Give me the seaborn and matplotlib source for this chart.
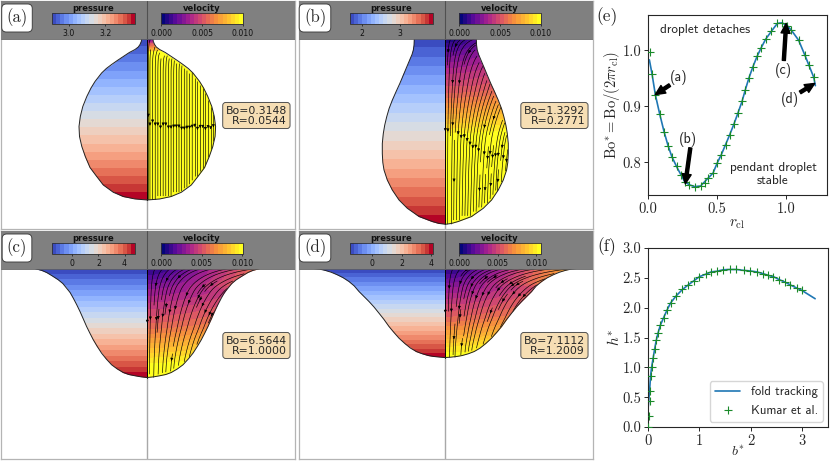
import numpy as np
import pandas as pd
import matplotlib
matplotlib.use('Agg')
import matplotlib.pyplot as plt
import seaborn as sns
from matplotlib.colors import LinearSegmentedColormap, Normalize
from matplotlib.cm import ScalarMappable
from matplotlib.patches import Polygon

# droplet half widths against depth below the top plate
depth_a = [0, 3, 6, 8.5, 11, 14, 18, 22, 26, 30, 34.5, 43, 49.5, 58, 68, 78, 88, 98, 108, 118, 129, 138, 146.5, 153.8, 158, 160.5, 161.5]
width_a = [5.7, 6, 7.3, 9, 12.3, 18, 24, 30, 35.7, 41, 45.7, 52.3, 56.3, 60.5, 64.5, 67, 68.3, 67.8, 65.5, 62, 57.3, 50.6, 44, 34, 24, 12.3, 0]
depth_b = [0, 6.7, 11.7, 16, 20, 28.3, 36.7, 45, 53.3, 61.7, 70, 78.3, 86.7, 95, 105, 115, 124, 131.5, 141.5, 151.5, 161.5, 169.8, 178, 183, 185, 185.8]
width_b = [31, 31.3, 32, 33.3, 35, 38.5, 42, 45.5, 49.3, 53, 56.2, 58.6, 60.6, 62, 63, 63, 62.5, 61.3, 58, 53, 46.3, 38, 26.3, 13, 6, 0]
depth_c = [0, 2, 4, 7, 11.3, 15, 19.7, 24, 29.7, 36, 43, 50, 58, 64.5, 71.3, 78, 84.7, 90.5, 96.3, 100.5, 104, 106, 107.3, 108.4, 109]
width_c = [112.3, 105.3, 100.7, 95.7, 89, 84.5, 80.7, 77.2, 74, 70.7, 67.3, 64.2, 60.7, 57.5, 54, 50, 45.7, 41, 35.7, 30, 24, 18.5, 12.3, 6, 0]
depth_d = [0, 0.7, 2, 3.8, 6.3, 9.3, 13, 17.5, 23, 28, 33, 38.5, 44.7, 51, 58, 64, 69.7, 75, 79.7, 83, 85.3, 87, 88, 88.7, 89]
width_d = [131.3, 125.5, 119.7, 114, 108, 102, 96.3, 91, 86.3, 81.3, 76.3, 71.3, 66.3, 61.3, 56.3, 51.3, 46.3, 40.5, 34.7, 29, 23, 17, 11.3, 5.5, 0]

# axial speed against depth
speed_depth_a = [0, 5, 12, 17, 30, 162]
speed_a = [0.0005, 0.005, 0.008, 0.0125, 0.0135, 0.0135]
speed_depth_b = [0, 18, 35, 55, 75, 95, 105, 130, 186]
speed_b = [0.0005, 0.0025, 0.004, 0.0055, 0.0075, 0.0095, 0.0102, 0.0112, 0.0125]
speed_depth_c = [0, 20, 40, 60, 77, 93, 109]
speed_c = [0.0008, 0.003, 0.0045, 0.006, 0.0078, 0.0095, 0.0105]
speed_depth_d = [0, 17, 33, 50, 67, 80, 90]
speed_d = [0.0008, 0.003, 0.0045, 0.006, 0.008, 0.0098, 0.0105]

pressure_range = [[2.906, 3.363], [1.69, 3.87], [-1.54, 4.8], [-1.52, 4.11]]
pressure_ticks = [[3.0, 3.2], [2, 3], [0, 2, 4], [0, 2, 4]]
pressure_labels = [['3.0', '3.2'], ['2', '3'], ['0', '2', '4'], ['0', '2', '4']]
velocity_max = [0.010, 0.010, 0.0101, 0.0106]
velocity_ticks = [0.0, 0.005, 0.010]
velocity_labels = ['0.000', '0.005', '0.010']
panel_names = ['(a)', '(b)', '(c)', '(d)']
bond_text = ['Bo=0.3148\nR=0.0544', 'Bo=1.3292\nR=0.2771', 'Bo=6.5644\nR=1.0000', 'Bo=7.1112\nR=1.2009']
velocity_colors = ['#05057a', '#5a0a9a', '#a5208f', '#d8506a', '#f58a40', '#ffc030', '#ffff20']

# bifurcation curve of panel (e)
line_rcl = [0.01, 0.029, 0.053, 0.084, 0.116, 0.145, 0.173, 0.212, 0.265, 0.30, 0.337, 0.38, 0.434, 0.47, 0.50, 0.53, 0.561, 0.59, 0.622, 0.65, 0.68, 0.704, 0.73, 0.759, 0.788, 0.819, 0.851, 0.892, 0.935, 0.969, 1.007, 1.036, 1.089, 1.133, 1.164, 1.198, 1.21]
line_bo = [0.983, 0.958, 0.921, 0.887, 0.855, 0.830, 0.810, 0.790, 0.766, 0.760, 0.757, 0.758, 0.772, 0.781, 0.799, 0.814, 0.832, 0.849, 0.869, 0.888, 0.909, 0.93, 0.951, 0.971, 0.989, 1.005, 1.02, 1.034, 1.048, 1.049, 1.044, 1.036, 1.018, 0.992, 0.973, 0.952, 0.937]
mark_rcl = [0.012, 0.029, 0.053, 0.084, 0.116, 0.145, 0.173, 0.212, 0.24, 0.265, 0.30, 0.337, 0.38, 0.41, 0.434, 0.47, 0.50, 0.53, 0.561, 0.59, 0.622, 0.65, 0.68, 0.704, 0.73, 0.759, 0.788, 0.819, 0.851, 0.892, 0.935, 0.969, 1.007, 1.036, 1.089, 1.133, 1.164, 1.198]
mark_bo = [0.997, 0.958, 0.921, 0.887, 0.855, 0.830, 0.810, 0.793, 0.778, 0.766, 0.760, 0.757, 0.758, 0.764, 0.772, 0.781, 0.799, 0.814, 0.832, 0.849, 0.869, 0.888, 0.909, 0.93, 0.951, 0.971, 0.989, 1.005, 1.02, 1.034, 1.048, 1.049, 1.044, 1.036, 1.018, 0.992, 0.973, 0.952]

# panel (f)
mark_b = [0, 0.01, 0.03, 0.04, 0.05, 0.07, 0.1, 0.13, 0.16, 0.195, 0.24, 0.305, 0.37, 0.44, 0.55, 0.67, 0.78, 0.89, 1.0, 1.12, 1.23, 1.34, 1.46, 1.59, 1.72, 1.86, 1.99, 2.11, 2.24, 2.34, 2.44, 2.55, 2.66, 2.77, 2.89, 2.99]
mark_h = [0, 0.185, 0.43, 0.6, 0.855, 1.0, 1.155, 1.31, 1.45, 1.575, 1.705, 1.835, 1.96, 2.08, 2.2, 2.305, 2.38, 2.45, 2.52, 2.56, 2.6, 2.61, 2.635, 2.64, 2.64, 2.625, 2.615, 2.6, 2.57, 2.54, 2.52, 2.47, 2.43, 2.38, 2.33, 2.29]
line_b = [0.0, 0.03, 0.05, 0.07, 0.1, 0.13, 0.16, 0.195, 0.24, 0.305, 0.37, 0.44, 0.55, 0.67, 0.78, 0.89, 1.0, 1.12, 1.23, 1.34, 1.46, 1.59, 1.72, 1.86, 1.99, 2.11, 2.24, 2.34, 2.44, 2.55, 2.66, 2.77, 2.89, 2.99, 3.25]
line_h = [0.3, 0.6, 0.855, 1.0, 1.155, 1.31, 1.45, 1.575, 1.705, 1.835, 1.96, 2.08, 2.2, 2.305, 2.38, 2.45, 2.52, 2.56, 2.6, 2.61, 2.635, 2.64, 2.64, 2.625, 2.615, 2.6, 2.57, 2.54, 2.52, 2.47, 2.43, 2.38, 2.33, 2.29, 2.15]

sns.set_style('ticks')
plt.rcParams['mathtext.fontset'] = 'cm'
plt.rcParams['axes.formatter.use_mathtext'] = True
W, H = 830, 461
fig = plt.figure(figsize=(W / 100, H / 100), dpi=100)


def px_axes(x0, y0, x1, y1):
    return fig.add_axes([x0 / W, 1 - y1 / H, (x1 - x0) / W, (y1 - y0) / H])


pressure_cmap = plt.get_cmap('coolwarm', 20)
velocity_cmap = LinearSegmentedColormap.from_list('vel', velocity_colors, N=20)


def droplet_panel(i, x0, y0, depth, width, sp_depth, speed, density):
    x1, y1 = x0 + 294, y0 + 228
    center = 146.3
    ax = px_axes(x0, y0, x1, y1)
    ax.set_xlim(-center, 294 - center)
    ax.set_ylim(-190.5, 37.5)
    ax.set_xticks([])
    ax.set_yticks([])
    for s in ax.spines.values():
        s.set_color('#b4b4b4')
        s.set_linewidth(0.9)
    depth = np.array(depth, float)
    width = np.array(width, float)

    # fields on a regular grid, masked outside the droplet
    r = np.linspace(0, 140, 200)
    y = np.linspace(-depth.max(), 0, 220)
    rr, yy = np.meshgrid(r, y)
    axial = np.interp(-y, sp_depth, speed)
    slope = np.gradient(axial, -y)
    slope = np.convolve(np.pad(slope, 6, mode='edge'), np.ones(13) / 13, mode='valid')
    vv = np.tile(axial[:, None], (1, len(r)))
    uu = rr / 2 * slope[:, None]
    inside = rr <= np.interp(-yy, depth, width)
    mag = np.hypot(uu, vv)

    right_poly = np.r_[np.c_[width, -depth], [[0, -depth[-1]], [0, 0]]]
    left_poly = right_poly * [-1, 1]

    pr = np.interp(-y, [0, depth.max()], pressure_range[i])
    mesh = ax.pcolormesh(-r[::-1], y, np.tile(pr[:, None], (1, len(r))), cmap=pressure_cmap,
                         vmin=pressure_range[i][0], vmax=pressure_range[i][1], shading='nearest')
    mesh.set_clip_path(Polygon(left_poly, transform=ax.transData))
    mesh = ax.pcolormesh(r, y, mag, cmap=velocity_cmap, vmin=0, vmax=velocity_max[i], shading='nearest')
    mesh.set_clip_path(Polygon(right_poly, transform=ax.transData))

    # arrow heads point towards the tip of the droplet
    ax.streamplot(r, y, np.ma.array(-uu, mask=~inside), np.ma.array(-vv, mask=~inside), density=density,
                  color='k', linewidth=0.45, arrowsize=0.4)
    ax.plot(width, -depth, color='#222222', lw=0.7, zorder=5)
    ax.plot(-width, -depth, color='#222222', lw=0.7, zorder=5)

    ax.axvline(0, color='#a8a8a8', lw=1, zorder=0.5)
    ax.plot([0, 0], [0, -depth.max()], color='k', lw=0.7, zorder=4)
    ax.axhspan(0, 37.5, color='#808080', zorder=6, lw=0)
    ax.plot([0, 0], [0, 37.5], color='#505050', lw=0.8, zorder=7)
    ax.axhline(0, color='#606060', lw=0.6, zorder=7)

    ax.text(286 / 294, 1 - 114.5 / 228, bond_text[i], transform=ax.transAxes, ha='right', va='center',
            fontsize=7.8, zorder=8, linespacing=1.0,
            bbox=dict(boxstyle='round,pad=0.28', fc='#f6deb4', ec='#505050', lw=0.7))
    ax.text(16 / 294, 1 - 17 / 228, panel_names[i], transform=ax.transAxes, ha='center', va='center',
            family='cmr10', fontsize=12, zorder=8,
            bbox=dict(boxstyle='round,pad=0.28', fc='white', ec='#404040', lw=0.7))

    # the two colour bars sit on the grey strip
    for (bx0, bx1, cmap, lo, hi, ticks, labels, title) in [
        (51, 134, pressure_cmap, pressure_range[i][0], pressure_range[i][1], pressure_ticks[i], pressure_labels[i], 'pressure'),
        (160, 242, velocity_cmap, 0, velocity_max[i], velocity_ticks, velocity_labels, 'velocity'),
    ]:
        cax = px_axes(x0 + bx0, y0 + 12, x0 + bx1, y0 + 23.5)
        cax.set_zorder(10)
        cb = fig.colorbar(ScalarMappable(Normalize(lo, hi), cmap), cax=cax, orientation='horizontal')
        cb.set_ticks(ticks, labels=labels)
        cb.ax.tick_params(labelsize=5.6, length=1.5, width=0.5, pad=1.5, colors='#111111')
        cb.outline.set_linewidth(0.6)
        cb.outline.set_edgecolor('#303030')
        cax.set_title(title, fontsize=6, fontweight='bold', pad=1.2, color='#111111')
    return ax


droplet_panel(0, 1, 1, depth_a, width_a, speed_depth_a, speed_a, [1.8, 1.4])
droplet_panel(1, 299, 1, depth_b, width_b, speed_depth_b, speed_b, [1.7, 1.5])
droplet_panel(2, 1, 231, depth_c, width_c, speed_depth_c, speed_c, [1.25, 1.2])
droplet_panel(3, 299, 231, depth_d, width_d, speed_depth_d, speed_d, [1.25, 1.2])

line_color = '#1f77b4'
mark_color = '#1a8a2a'

# panel (e)
ax_e = px_axes(648, 15, 827, 195)
line_e = pd.DataFrame({'rcl': line_rcl, 'bo': line_bo})
mark_e = pd.DataFrame({'rcl': mark_rcl, 'bo': mark_bo})
sns.lineplot(data=line_e, x='rcl', y='bo', color=line_color, lw=1.2, ax=ax_e, sort=False, estimator=None)
sns.scatterplot(data=mark_e, x='rcl', y='bo', marker='+', s=34, color=mark_color, linewidth=0.8, ax=ax_e, zorder=3)
ax_e.set_xlim(0, 1.294)
ax_e.set_ylim(0.742, 1.063)
ax_e.set_xticks([0, 0.5, 1.0], ['0.0', '0.5', '1.0'], family='cmr10', fontsize=10.5)
ax_e.set_yticks([0.8, 0.9, 1.0], ['0.8', '0.9', '1.0'], family='cmr10', fontsize=10.5)
ax_e.tick_params(length=3, width=0.7, pad=2)
ax_e.set_xlabel(r'$r_{\mathrm{cl}}$', fontsize=11, labelpad=0)
ax_e.set_ylabel(r'$\mathrm{Bo}^{*}=\mathrm{Bo}/(2\pi r_{\mathrm{cl}})$', fontsize=10.5, labelpad=0)
ax_e.text(0.415, 1.037, 'droplet detaches', family='cmss10', fontsize=9.5, ha='center', va='center')
ax_e.text(0.904, 0.779, 'pendant droplet\nstable', family='cmss10', fontsize=9.5, ha='center', va='center', linespacing=1.1)
arrow = dict(facecolor='k', edgecolor='k', width=2.2, headwidth=6.5, headlength=7, shrink=0)
for name, tx, ty, tip_x, tip_y, tail_x, tail_y in [('(a)', 0.222, 0.951, 0.053, 0.921, 0.157, 0.938),
                                                    ('(b)', 0.292, 0.841, 0.270, 0.762, 0.306, 0.826),
                                                    ('(c)', 0.98, 0.964, 0.9988, 1.048, 0.982, 0.982),
                                                    ('(d)', 1.029, 0.913, 1.205, 0.941, 1.10, 0.925)]:
    ax_e.text(tx, ty, name, family='cmss10', fontsize=10, ha='center', va='center')
    ax_e.annotate('', xy=(tip_x, tip_y), xytext=(tail_x, tail_y), arrowprops=arrow)
fig.text(607 / W, 1 - 17 / H, '(e)', family='cmr10', fontsize=12.5, ha='center', va='center')

# panel (f)
ax_f = px_axes(648, 248, 828, 427)
line_f = pd.DataFrame({'b': line_b, 'h': line_h})
mark_f = pd.DataFrame({'b': mark_b, 'h': mark_h})
sns.lineplot(data=line_f, x='b', y='h', color=line_color, lw=1.2, ax=ax_f, sort=False, estimator=None, label='fold tracking')
sns.scatterplot(data=mark_f, x='b', y='h', marker='+', s=34, color=mark_color, linewidth=0.8, ax=ax_f, zorder=3, label='Kumar et al.')
ax_f.set_xlim(0, 3.5)
ax_f.set_ylim(0, 3)
ax_f.set_xticks([0, 1, 2, 3], ['0', '1', '2', '3'], family='cmr10', fontsize=10.5)
ax_f.set_yticks([0, 0.5, 1, 1.5, 2, 2.5, 3], ['0.0', '0.5', '1.0', '1.5', '2.0', '2.5', '3.0'], family='cmr10', fontsize=10.5)
ax_f.tick_params(length=3, width=0.7, pad=2)
ax_f.set_xlabel(r'$b^{*}$', fontsize=10, labelpad=-2)
ax_f.set_ylabel(r'$h^{*}$', fontsize=11, labelpad=0)
ax_f.legend(loc='lower right', prop={'family': 'cmss10', 'size': 9.2}, frameon=True, borderaxespad=0.4)
fig.text(607 / W, 1 - 247 / H, '(f)', family='cmr10', fontsize=12.5, ha='center', va='center')

fig.savefig('out.png', dpi=100)
